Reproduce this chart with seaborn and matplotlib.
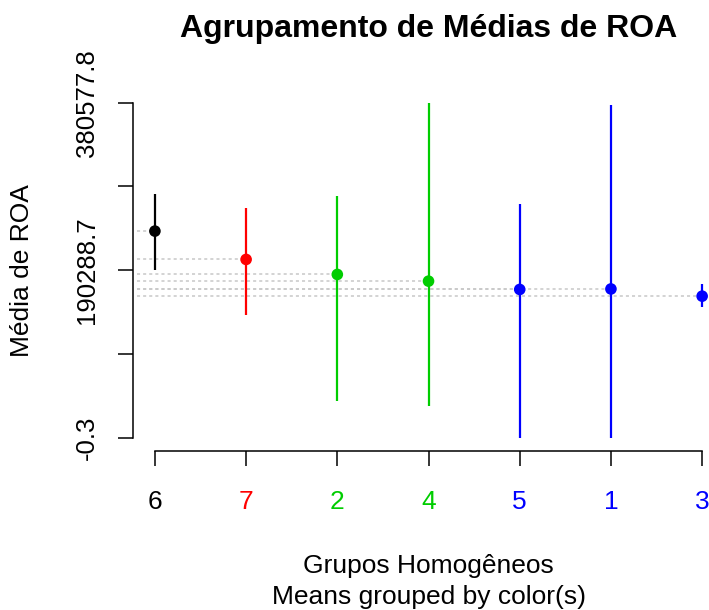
import numpy as np
import matplotlib
matplotlib.use("Agg")
import matplotlib.pyplot as plt
import pandas as pd
import seaborn as sns

# groups in plotting order, means and interval limits
groups = ["6", "7", "2", "4", "5", "1", "3"]
means = [234650, 202460, 185400, 177780, 168340, 168900, 160710]
upper = [276730, 260460, 274800, 380577.8, 265360, 377620, 174360]
lower = [190290, 139100, 41290, 35600, -0.3, -0.3, 148540]
colors = ["black", "red", "#00CD00", "#00CD00", "blue", "blue", "blue"]

y_ticks = [-0.3, 95144.2, 190288.7, 285433.2, 380577.8]
y_tick_labels = ["-0.3", "", "190288.7", "", "380577.8"]

df = pd.DataFrame({"grupo": groups, "media": means, "sup": upper, "inf": lower, "cor": colors})
df["pos"] = np.arange(1, len(df) + 1)

sns.set_style("ticks")
plt.rcParams["font.family"] = ["Liberation Sans", "DejaVu Sans"]
plt.rcParams["text.color"] = "black"
plt.rcParams["axes.labelcolor"] = "black"

fig = plt.figure(figsize=(7.09, 6.1), dpi=100)
ax = fig.add_axes([0.1876, 0.2607, 0.8336, 0.5929])

# dotted guide lines from the axis to each mean
ax.hlines(df["media"], 0.8, df["pos"], colors="#C8C8C8", linestyles=(0, (2, 2)), lw=1.1, zorder=1)

# intervals
ax.vlines(df["pos"], df["inf"], df["sup"], colors=df["cor"], lw=1.6, zorder=2)

sns.scatterplot(data=df, x="pos", y="media", hue="cor", palette={c: c for c in colors},
                s=70, edgecolor=None, linewidth=0, legend=False, ax=ax, zorder=3)

span_y = 380577.8 - (-0.3)
ax.set_ylim(-0.3 - 0.04 * span_y, 380577.8 + 0.04 * span_y)
ax.set_xlim(1 - 0.04 * 6, 7 + 0.04 * 6)

ax.set_xticks(df["pos"])
ax.set_xticklabels(groups)
for lbl, c in zip(ax.get_xticklabels(), colors):
    lbl.set_color(c)
ax.set_yticks(y_ticks)
ax.set_yticklabels(y_tick_labels, rotation=90, va="center")

ax.tick_params(axis="both", direction="out", length=10.8, width=1.1, color="black",
               left=True, bottom=True)
ax.tick_params(axis="x", pad=17, labelsize=19)
ax.tick_params(axis="y", pad=14, labelsize=18.5, labelcolor="black")

for side in ["top", "right"]:
    ax.spines[side].set_visible(False)
ax.spines["left"].set_bounds(-0.3, 380577.8)
ax.spines["bottom"].set_bounds(1, 7)
for side in ["left", "bottom"]:
    ax.spines[side].set_linewidth(1.1)
    ax.spines[side].set_color("black")

ax.set_title("Agrupamento de Médias de ROA", fontsize=23, fontweight="bold", pad=38)
ax.set_ylabel("Média de ROA", fontsize=19, labelpad=29)
ax.set_xlabel("Grupos Homogêneos\nMeans grouped by color(s)", fontsize=19, labelpad=29,
              linespacing=1.35)

fig.savefig("out.png", dpi=100)
